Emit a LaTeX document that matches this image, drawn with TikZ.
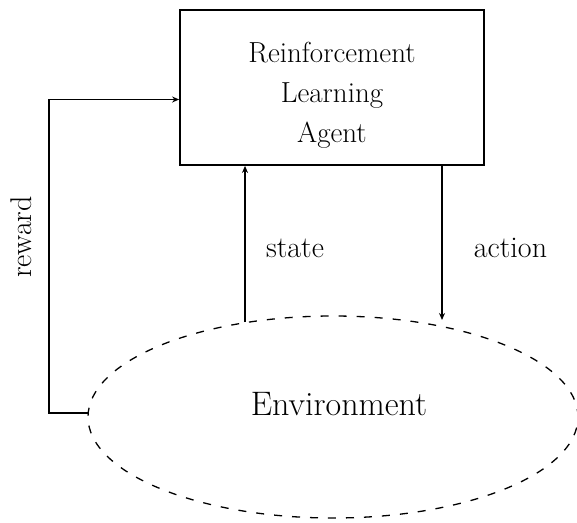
\documentclass[tikz,border=0pt]{standalone}
\usepackage{tikz}
\usetikzlibrary{arrows.meta,shapes.geometric}

\begin{document}
\begin{tikzpicture}[x=1pt, y=-1pt, >={Stealth[length=7pt,width=6pt]},
    lbl/.style={font=\fontsize{30}{36}\selectfont},
    flow/.style={->, line width=1.5pt}]
    \useasboundingbox (0,0) rectangle (577,522);
    % agent box and environment
    \node[draw, line width=1.8pt, minimum width=304pt, minimum height=155pt] (agent) at (332,87.5) {};
    \node[align=center, font=\fontsize{29}{40}\selectfont] (agenttxt) at (332,95.5) {Reinforcement\\Learning\\Agent};
    \node[ellipse, draw, line width=1.3pt, dash pattern=on 8pt off 10pt,
          minimum width=490pt, minimum height=202pt] (env) at (333,417) {};
    \node[font=\fontsize{34}{40}\selectfont] (envtxt) at (339,404.5) {Environment};
    % connectors
    \coordinate (rwdOut) at (89,413);
    \coordinate (stBase) at (245,322);
    \coordinate (acTip) at (442,320);
    \draw[flow] (rwdOut) -- (49,413) |- ([yshift=-12pt]agent.west);
    \draw[flow] (stBase) -- (stBase |- agent.south);
    \draw[flow] (acTip |- agent.south) -- (acTip);
    % labels
    \node[lbl] (stlbl) at (295,248.5) {state};
    \node[lbl] (aclbl) at (510.5,247.5) {action};
    \node[lbl, rotate=90] (rwlbl) at (21,237) {reward};
\end{tikzpicture}
\end{document}
